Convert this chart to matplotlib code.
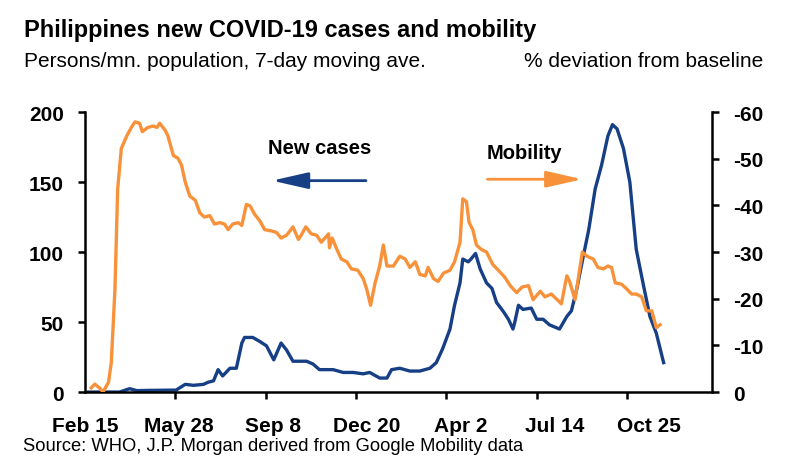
import matplotlib

matplotlib.use("Agg")
import matplotlib.pyplot as plt
from matplotlib.ticker import FixedLocator

plt.rcParams["axes.unicode_minus"] = False

# days since Feb 15, 2020
case_days = [4, 38, 49, 57, 71, 100, 110, 119, 130, 135, 141, 146, 151, 159, 166,
             172, 175, 184, 192, 199, 207, 215, 221, 228, 243, 250, 257, 272, 283,
             294, 305, 312, 323, 331, 336, 345, 356, 367, 378, 385, 392, 400, 405,
             411, 414, 420, 423, 428, 433, 440, 446, 451, 459, 464, 469, 471, 475,
             480, 489, 495, 502, 509, 520, 528, 533, 539, 546, 552, 559, 566, 573,
             578, 583, 590, 597, 604, 612, 619, 626, 634]
new_cases = [0, 0, 2.4, 1, 1.2, 1.4, 5.5, 4.8, 5.5, 7, 8, 16, 11.5, 17, 17,
             35, 39, 39, 36, 33, 23, 35, 30, 22, 22, 20, 16, 16, 14,
             14, 13, 14, 10, 10, 16, 17, 15, 15, 17, 21, 31, 45, 62,
             78, 95, 93, 95, 99, 88, 78, 74, 64, 57, 52, 45, 50, 62,
             59, 60, 52, 52, 48, 45, 54, 58, 74, 97, 116, 145, 162, 183,
             191, 188, 174, 150, 102, 76, 54, 42, 21]

mob_days = [7, 11, 16, 20, 26, 29, 33, 36, 40, 46, 51, 55, 60, 63, 69, 75, 79, 82,
            88, 91, 97, 102, 106, 110, 115, 121, 126, 131, 137, 142, 148, 153, 157,
            162, 168, 172, 177, 181, 186, 192, 197, 205, 210, 215, 221, 228, 234,
            237, 242, 248, 254, 259, 263, 267, 268, 271, 276, 281, 287, 292, 299,
            305, 309, 313, 318, 323, 327, 331, 338, 345, 351, 356, 362, 367, 373,
            376, 382, 387, 393, 400, 405, 411, 414, 418, 421, 425, 429, 434, 440,
            447, 453, 460, 466, 473, 479, 486, 491, 499, 504, 511, 519, 522, 528,
            531, 537, 541, 545, 550, 557, 562, 568, 573, 577, 581, 588, 593, 599,
            604, 610, 615, 621, 626, 630]
mobility = [-0.9, -1.7, -0.9, 0, -2.1, -6.3, -21.9, -43.5, -52.2, -54.9, -56.7,
            -57.9, -57.6, -55.8, -56.7, -57.0, -56.7, -57.6, -56.1, -54.9, -50.7,
            -50.1, -48.6, -45.0, -42.0, -41.1, -38.4, -37.5, -37.8, -36.0, -36.3,
            -36.0, -34.8, -36.0, -36.3, -35.7, -40.2, -39.9, -38.1, -36.6, -34.8,
            -34.5, -34.2, -33.0, -33.6, -35.4, -32.7, -33.6, -35.4, -33.9, -33.6,
            -32.1, -33.0, -33.9, -30.9, -33.0, -30.6, -28.5, -27.9, -26.4, -26.1,
            -24.3, -21.9, -18.6, -23.4, -27.0, -31.5, -27.0, -27.0, -29.1, -28.5,
            -26.7, -27.9, -25.2, -24.9, -26.7, -24.3, -23.7, -25.5, -26.1, -27.9,
            -32.1, -41.4, -40.8, -36.3, -34.8, -31.5, -30.6, -30.0, -27.3, -26.1,
            -24.6, -22.8, -21.3, -22.5, -22.8, -19.8, -21.6, -20.4, -21.0, -19.5,
            -18.9, -24.9, -23.7, -19.8, -24.9, -30.0, -29.1, -28.5, -26.7, -26.4,
            -27.0, -26.7, -23.4, -23.1, -22.2, -21.0, -21.0, -20.4, -17.4, -17.4,
            -13.8, -14.4]

label_days = [0, 103, 206, 309, 412, 515, 618]
label_names = ["Feb 15", "May 28", "Sep 8", "Dec 20", "Apr 2", "Jul 14", "Oct 25"]
tick_days = [99, 198, 297, 396, 495, 594]

blue = "#173f85"
orange = "#f7923a"
arial = ["Liberation Sans", "DejaVu Sans"]

fig = plt.figure(figsize=(8, 4.77), dpi=100)
ax = fig.add_axes([0.106, 0.176, 0.784, 0.587])
ax2 = ax.twinx()

ax.plot(case_days, new_cases, color=blue, lw=2.4)
ax2.plot(mob_days, mobility, color=orange, lw=2.4)

ax.set_xlim(0, 687)
ax.set_ylim(0, 200)
ax2.set_ylim(0, -60)

ax.set_yticks([0, 50, 100, 150, 200])
ax2.set_yticks([0, -10, -20, -30, -40, -50, -60])
ax.set_xticks(label_days)
ax.set_xticklabels(label_names)
ax.xaxis.set_minor_locator(FixedLocator(tick_days))

for a in (ax, ax2):
    a.spines["top"].set_visible(False)
    for s in ("left", "right", "bottom"):
        a.spines[s].set_linewidth(1.8)
ax.spines["right"].set_visible(False)
ax2.spines["left"].set_visible(False)
ax2.spines["bottom"].set_visible(False)

ax.tick_params(axis="y", length=5, width=1.8, pad=10)
ax2.tick_params(axis="y", length=5, width=1.8, pad=10)
ax.tick_params(axis="x", which="major", length=0, pad=17)
ax.tick_params(axis="x", which="minor", length=5, width=1.8)

for lab in ax.get_xticklabels() + ax.get_yticklabels() + ax2.get_yticklabels():
    lab.set_family(arial)
    lab.set_fontsize(15)
    lab.set_fontweight("bold")

# legend-style annotations
ax.annotate("", xy=(202, 151), xytext=(311, 151),
            arrowprops=dict(arrowstyle="-|>,head_length=1.1,head_width=0.25",
                            color=blue, lw=2, mutation_scale=20))
ax.text(257, 175, "New cases", ha="center", va="center", fontsize=14.5,
        fontweight="bold", family=arial)
ax.annotate("", xy=(548, 152), xytext=(438, 152),
        arrowprops=dict(arrowstyle="-|>,head_length=1.1,head_width=0.25",
                        color=orange, lw=2, mutation_scale=20))
ax.text(482, 171, "Mobility", ha="center", va="center", fontsize=14.5,
        fontweight="bold", family=arial)

fig.text(0.03, 1 - 37 / 477, "Philippines new COVID-19 cases and mobility",
         ha="left", va="baseline", fontsize=17, fontweight="bold", family=arial)
fig.text(0.03, 1 - 67 / 477, "Persons/mn. population, 7-day moving ave.",
         ha="left", va="baseline", fontsize=15, family=arial)
fig.text(763 / 800, 1 - 67 / 477, "% deviation from baseline",
         ha="right", va="baseline", fontsize=15, family=arial)
fig.text(23 / 800, 1 - 451 / 477,
         "Source: WHO, J.P. Morgan derived from Google Mobility data",
         ha="left", va="baseline", fontsize=13.2, family=arial)

fig.savefig("out.png", dpi=100)
